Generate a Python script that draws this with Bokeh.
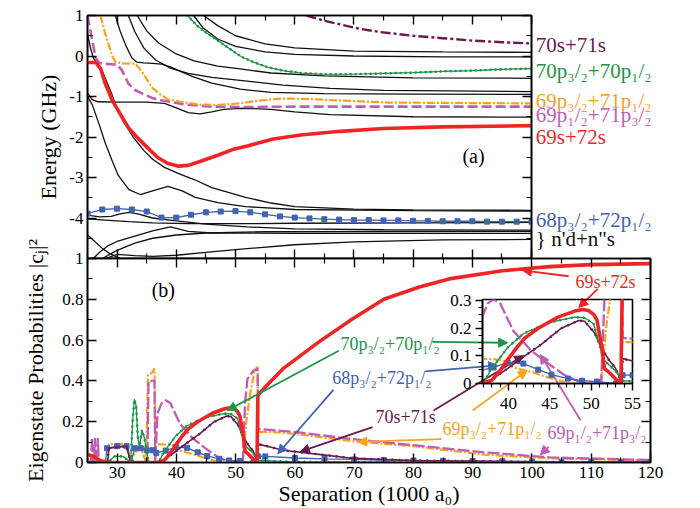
from bokeh.plotting import figure
from bokeh.layouts import column
from bokeh.models import Range1d, LinearAxis, FixedTicker, Label, Arrow, NormalHead
from bokeh.embed import file_html
from bokeh.resources import INLINE

FONT = "Liberation Serif"
W, H = 700, 508

RED = "#ee2524"; GREEN = "#1d9447"; ORANGE = "#f8a21c"; PINK = "#c25bb3"
PURPLE = "#6b1a4f"; BLUE = "#4262b3"; BLACK = "#111111"

# ---------------- ticks ----------------
energy_ticks = [-4, -3, -2, -1, 0, 1]
energy_labels = ["-4", "-3", "-2", "-1", "0", "1"]
energy_minor = [-4.5, -3.5, -2.5, -1.5, -0.5, 0.5]
sep_ticks = [30, 40, 50, 60, 70, 80, 90, 100, 110, 120]
sep_labels = ["30", "40", "50", "60", "70", "80", "90", "100", "110", "120"]
sep_minor = [25, 35, 45, 55, 65, 75, 85, 95, 105, 115]
prob_ticks = [0, 0.2, 0.4, 0.6, 0.8, 1]
prob_labels = ["0", "0.2", "0.4", "0.6", "0.8", "1"]
prob_minor = [0.1, 0.3, 0.5, 0.7, 0.9]
inset_x_ticks = [40, 45, 50, 55]
inset_x_labels = ["40", "45", "50", "55"]
inset_x_minor = [37, 38, 39, 41, 42, 43, 44, 46, 47, 48, 49, 51, 52, 53, 54]
inset_y_ticks = [0, 0.1, 0.2, 0.3]
inset_y_labels = ["0", "0.1", "0.2", "0.3"]
inset_y_minor = [0.025, 0.05, 0.075, 0.125, 0.15, 0.175, 0.225, 0.25, 0.275]

# ---------------- panel (a): energies ----------------
t_red_x = [25, 26.4, 27.2, 28, 29.2, 30.2, 31.9, 33.6, 35.6, 37, 38.5, 40.4, 42, 44.1, 47, 49.7, 52, 56.4, 61, 67.7, 75, 85, 100]
t_red_e = [-0.16, -0.16, -0.31, -0.68, -1.1, -1.35, -1.77, -2.04, -2.33, -2.52, -2.65, -2.72, -2.7, -2.6, -2.45, -2.3, -2.22, -2.05, -1.95, -1.86, -1.79, -1.75, -1.72]
t_purple_x = [62, 65, 68, 71, 74.5, 80, 85, 90, 95, 100]
t_purple_e = [1.0, 0.87, 0.77, 0.67, 0.59, 0.5, 0.44, 0.38, 0.34, 0.31]
t_green_x = [41.9, 43.5, 45, 47, 49, 51, 53, 55.5, 58, 61, 65, 70, 75, 80, 85, 90, 95, 100]
t_green_e = [1.0, 0.75, 0.58, 0.38, 0.18, -0.02, -0.15, -0.28, -0.36, -0.42, -0.45, -0.45, -0.43, -0.41, -0.38, -0.36, -0.33, -0.31]
t_orange_x = [27.2, 27.9, 28.5, 29.2, 29.7, 31, 33.1, 34.3, 35.9, 37.3, 38.6, 41.5, 44, 47, 50.8, 54, 57, 59.3, 62, 67.8, 76, 88, 100]
t_orange_e = [1.0, 0.6, 0.31, 0.0, -0.15, -0.18, -0.19, -0.41, -0.78, -0.95, -1.07, -1.15, -1.2, -1.21, -1.17, -1.1, -1.06, -1.05, -1.06, -1.1, -1.15, -1.16, -1.17]
t_pink_x = [25, 25.8, 26.4, 27, 27.5, 30, 30.8, 31.9, 33, 34.3, 36, 37.7, 41.6, 46, 51.7, 60, 80, 100]
t_pink_e = [1.0, 0.38, -0.06, -0.17, -0.19, -0.21, -0.35, -0.68, -0.84, -0.93, -1.04, -1.1, -1.2, -1.25, -1.26, -1.25, -1.25, -1.25]
t_blue_x = [25, 27.5, 30, 32.5, 35, 37.5, 40, 42.5, 45, 47.5, 50, 52.5, 55, 57.5, 60, 62.5, 65, 67.5, 70, 72.5, 75, 77.5, 80, 82.5, 85, 87.5, 90, 92.5, 95, 97.5, 100]
t_blue_e = [-3.89, -3.79, -3.77, -3.79, -3.84, -3.99, -3.99, -3.92, -3.86, -3.84, -3.83, -3.86, -3.91, -3.96, -3.99, -4.01, -4.03, -4.04, -4.05, -4.05, -4.06, -4.06, -4.07, -4.07, -4.08, -4.08, -4.08, -4.09, -4.09, -4.09, -4.09]

k1_x = [42.9, 44.5, 47, 50, 55, 60, 70, 85, 100]
k1_e = [1.0, 0.7, 0.42, 0.24, 0.1, 0.04, 0.0, -0.02, -0.02]
k2_x = [44.6, 47, 50, 55, 60, 70, 85, 100]
k2_e = [1.0, 0.75, 0.5, 0.3, 0.2, 0.12, 0.1, 0.09]
k3_x = [33.4, 35, 37, 40, 43, 47, 50.8, 56, 65, 80, 100]
k3_e = [1.0, 0.62, 0.32, 0.05, -0.12, -0.25, -0.32, -0.42, -0.49, -0.54, -0.55]
k4_x = [31.9, 33, 34.5, 36.5, 39, 42, 46, 50.8, 58, 66, 75, 100]
k4_e = [1.0, 0.6, 0.2, -0.1, -0.3, -0.43, -0.53, -0.6, -0.72, -0.8, -0.85, -0.88]
k5_x = [29.7, 30.5, 31.5, 32.5, 33.3, 34.5, 36, 37.5, 39, 41, 43, 46, 50.8, 56, 65, 80, 100]
k5_e = [1.0, 0.62, 0.25, -0.05, -0.15, -0.17, -0.18, -0.2, -0.27, -0.4, -0.52, -0.67, -0.82, -0.9, -0.93, -0.94, -0.95]
k6_x = [25, 25.8, 26.8, 30, 35, 38, 40, 42, 44, 46, 48, 50, 52, 56, 60, 66, 80, 100]
k6_e = [-0.92, -1.08, -1.13, -1.14, -1.14, -1.17, -1.28, -1.4, -1.43, -1.38, -1.32, -1.3, -1.29, -1.32, -1.38, -1.45, -1.5, -1.51]
k7_x = [25, 25.5, 26, 26.6, 27.3, 28, 29, 30, 31, 32.7, 34.5, 36, 38, 40.3, 43, 46, 51.7, 56, 60, 70, 80, 100]
k7_e = [0.55, 0.2, -0.05, -0.18, -0.3, -0.55, -0.9, -1.3, -1.6, -2.0, -2.33, -2.55, -2.75, -2.9, -3.05, -3.25, -3.49, -3.63, -3.72, -3.78, -3.8, -3.81]
k8_x = [25, 25.8, 27, 28, 29.2, 30.2, 32, 33.9, 36, 38.6, 41, 43.2, 47, 51.7, 60, 80, 100]
k8_e = [-1.0, -1.2, -1.7, -2.15, -2.6, -2.95, -3.3, -3.42, -3.33, -3.22, -3.33, -3.49, -3.62, -3.72, -3.79, -3.82, -3.83]
l1_x = [25, 27, 29, 30.5, 32, 33.5, 36, 40, 45, 52, 60, 75, 100]
l1_e = [-3.93, -3.97, -3.96, -3.9, -3.86, -3.9, -4.0, -4.07, -4.15, -4.22, -4.27, -4.29, -4.3]
l2_x = [25, 28, 32, 36, 42, 50, 60, 80, 100]
l2_e = [-4.02, -4.05, -4.09, -4.12, -4.14, -4.14, -4.13, -4.12, -4.11]
l3_x = [26, 27, 28.5, 30, 33, 36, 39, 42, 46, 60, 100]
l3_e = [-5.0, -4.85, -4.68, -4.58, -4.45, -4.32, -4.22, -4.33, -4.37, -4.38, -4.38]
l4_x = [25, 26, 27.5, 29, 30.5]
l4_e = [-4.42, -4.55, -4.75, -4.9, -5.0]
l5_x = [28, 30, 33, 36, 40, 45, 50, 60, 70, 85, 100]
l5_e = [-5.0, -4.9, -4.93, -4.95, -4.92, -4.85, -4.78, -4.66, -4.59, -4.54, -4.53]
l6_x = [27.5, 30, 33, 36, 40, 45, 55, 100]
l6_e = [-5.0, -4.8, -4.62, -4.5, -4.42, -4.37, -4.34, -4.33]

# ---------------- panel (b): probabilities ----------------
red_x = [25, 26, 27, 28, 36.8, 38, 39, 40, 41, 42, 43.6, 46, 48, 49, 49.7, 50.3, 50.7, 51.3, 51.6, 52, 52.9, 53.6, 53.75, 55, 58, 64, 69.5, 75, 81, 86, 95, 103, 110, 120]
red_p = [0.04, 0.03, 0.012, 0.0, 0.0, 0.012, 0.047, 0.09, 0.13, 0.165, 0.2, 0.24, 0.262, 0.268, 0.264, 0.25, 0.23, 0.13, 0.054, 0.045, 0.018, 0.0, 0.33, 0.37, 0.46, 0.59, 0.7, 0.8, 0.86, 0.9, 0.94, 0.96, 0.97, 0.975]
green_x = [25, 28.5, 29.5, 31, 32.3, 32.6, 32.9, 33.2, 33.5, 33.8, 34.2, 34.6, 35.3, 37.0, 37.8, 39.9, 41.8, 44.8, 48, 49.2, 50.3, 51.3, 51.6, 52.9, 53.8, 60, 120]
green_p = [0.0, 0.0, 0.03, 0.03, 0.0, 0.2, 0.31, 0.28, 0.12, 0.08, 0.16, 0.12, 0.0, 0.0, 0.047, 0.13, 0.18, 0.22, 0.24, 0.238, 0.216, 0.108, 0.083, 0.047, 0.01, 0.003, 0.0]
orange_x = [25, 28.3, 28.6, 31.6, 32.3, 33.0, 34.0, 34.9, 35.2, 35.9, 36.3, 36.45, 36.8, 39.3, 40.6, 43, 44.8, 47.5, 51.2, 51.8, 52.4, 53.2, 53.7, 53.8, 56, 60, 69.5, 80, 92, 103, 120]
orange_p = [0.01, 0.01, 0.09, 0.09, 0.0, 0.05, 0.07, 0.0, 0.43, 0.44, 0.46, 0.1, 0.09, 0.085, 0.058, 0.04, 0.022, 0.0, 0.0, 0.2, 0.33, 0.45, 0.47, 0.15, 0.15, 0.14, 0.105, 0.08, 0.038, 0.02, 0.01]
pink_x = [25, 25.6, 25.75, 25.9, 26.1, 26.25, 26.4, 26.6, 26.75, 26.9, 35.1, 35.3, 36.3, 36.45, 36.8, 37.5, 38.2, 39, 40.6, 42.7, 44.8, 46.8, 49, 51.2, 51.6, 52, 53, 53.7, 53.8, 60, 69.5, 80, 92, 103, 120]
pink_p = [0.0, 0.0, 0.12, 0.0, 0.0, 0.12, 0.0, 0.0, 0.12, 0.0, 0.0, 0.4, 0.4, 0.0, 0.24, 0.29, 0.305, 0.29, 0.19, 0.12, 0.072, 0.03, 0.0, 0.0, 0.3, 0.41, 0.45, 0.46, 0.165, 0.15, 0.115, 0.085, 0.05, 0.025, 0.012]
purple_x = [25, 28.4, 28.6, 31.6, 32.3, 37.5, 38.7, 39.9, 41.5, 43.9, 46.4, 48.5, 49.2, 50.4, 51.3, 52.2, 52.9, 53.5, 53.7, 53.8, 56, 58, 64, 70, 80, 100, 120]
purple_p = [0.0, 0.0, 0.07, 0.08, 0.0, 0.0, 0.03, 0.054, 0.09, 0.14, 0.2, 0.228, 0.225, 0.184, 0.126, 0.083, 0.058, 0.018, 0.0, 0.09, 0.075, 0.06, 0.04, 0.02, 0.01, 0.003, 0.0]
blue_x = [25, 28.0, 28.3, 30, 31.6, 32.3, 33, 34, 35, 36, 36.6, 38.2, 39.9, 41.8, 43.6, 45.2, 47.2, 48.9, 50.7, 53, 53.8, 55, 60, 65, 70, 75, 80, 85, 90, 95, 100, 105, 110, 115, 120]
blue_p = [0.0, 0.0, 0.07, 0.08, 0.08, 0.0, 0.07, 0.07, 0.06, 0.06, 0.047, 0.058, 0.076, 0.072, 0.05, 0.032, 0.018, 0.01, 0.007, 0.0, 0.03, 0.03, 0.022, 0.018, 0.015, 0.012, 0.01, 0.008, 0.007, 0.006, 0.005, 0.004, 0.004, 0.003, 0.003]


def base(xr, yr, left, right, top, bottom):
    p = figure(width=W, height=H, x_range=Range1d(*xr), y_range=Range1d(*yr),
               output_backend="svg", toolbar_location=None,
               x_axis_location=None, y_axis_location=None,
               min_border_left=left, min_border_right=right,
               min_border_top=top, min_border_bottom=bottom)
    if "frame_align" in p.properties():
        p.frame_align = False
    p.grid.visible = False
    p.outline_line_color = "black"
    p.outline_line_width = 1.6
    p.outline_line_alpha = 1.0
    p.border_fill_alpha = 0
    return p


def add_axis(p, side, ticks, minor, labels=None, inward=True, title=None, title_standoff=5, standoff=4):
    ax = LinearAxis(ticker=FixedTicker(ticks=ticks, minor_ticks=minor))
    ax.axis_line_width = 1.6
    ax.axis_line_color = "black"
    ax.major_tick_line_width = 1.4
    ax.minor_tick_line_width = 1.2
    ax.major_tick_line_color = "black"
    ax.minor_tick_line_color = "black"
    if inward:
        ax.major_tick_in, ax.major_tick_out, ax.minor_tick_in, ax.minor_tick_out = 9, 0, 5, 0
    else:
        ax.major_tick_in, ax.major_tick_out, ax.minor_tick_in, ax.minor_tick_out = 0, 7, 0, 4
    ax.major_label_text_font = FONT
    ax.major_label_text_font_size = "17px"
    ax.major_label_text_color = "black"
    ax.major_label_standoff = standoff
    if labels is None:
        ax.major_label_overrides = {t: "" for t in ticks}
    else:
        ax.major_label_overrides = {t: s for t, s in zip(ticks, labels)}
    if title:
        ax.axis_label = title
        ax.axis_label_text_font = FONT
        ax.axis_label_text_font_size = "22px"
        ax.axis_label_text_font_style = "normal"
        ax.axis_label_text_color = "black"
        ax.axis_label_standoff = title_standoff
    p.add_layout(ax, side)
    return ax


def dots(p, x, y, color, width=2.8, gap=5):
    p.line(x, y, line_color=color, line_width=width, line_dash="0 %d" % gap, line_cap="round")


# ================= top panel (a) =================
T = base((25, 100), (-5, 1), 87, 169, 15, 250)
T.border_fill_color = "white"
T.border_fill_alpha = 1
add_axis(T, "left", energy_ticks, energy_minor, energy_labels, title="Energy (GHz)", title_standoff=5)
add_axis(T, "right", energy_ticks, energy_minor)
add_axis(T, "above", sep_ticks, sep_minor)
add_axis(T, "below", sep_ticks, sep_minor)

for bx, be in [(k1_x, k1_e), (k2_x, k2_e), (k3_x, k3_e), (k4_x, k4_e), (k5_x, k5_e), (k6_x, k6_e),
               (k7_x, k7_e), (k8_x, k8_e), (l1_x, l1_e), (l2_x, l2_e), (l3_x, l3_e), (l4_x, l4_e),
               (l5_x, l5_e), (l6_x, l6_e)]:
    T.line(bx, be, line_color=BLACK, line_width=1.3)

T.line(t_purple_x, t_purple_e, line_color=PURPLE, line_width=2.4, line_dash="10 3 3 3")
T.line(t_green_x, t_green_e, line_color=GREEN, line_width=1.2)
dots(T, t_green_x, t_green_e, GREEN, 2.6, 5)
T.line(t_pink_x, t_pink_e, line_color=PINK, line_width=2.6, line_dash="10 4")
T.line(t_orange_x, t_orange_e, line_color=ORANGE, line_width=2.2, line_dash="8 2 2 2")
T.line(t_blue_x, t_blue_e, line_color=BLUE, line_width=1.3)
T.scatter(t_blue_x, t_blue_e, marker="square", size=5, fill_color=BLUE, line_color=BLUE)
T.line(t_red_x, t_red_e, line_color=RED, line_width=3.6)

T.add_layout(Label(x=90.2, y=-2.46, text="(a)", text_font=FONT, text_font_size="20px",
                   text_color="black", text_baseline="middle", text_align="center"))

# ---- state labels to the right of panel (a): own transparent canvas on the energy scale ----
Lf = base((0, 1), (-5, 1), 532, 2, 15, 250)
Lf.outline_line_color = None
Lf.background_fill_alpha = 0
top_labels = [
    ("70s+71s", 0.26, PURPLE),
    ("70p\u2083/\u2082+70p\u2081/\u2082", -0.36, GREEN),
    ("69p\u2083/\u2082+71p\u2081/\u2082", -1.1, ORANGE),
    ("69p\u2081/\u2082+71p\u2083/\u2082", -1.45, PINK),
    ("69s+72s", -1.99, RED),
    ("68p\u2083/\u2082+72p\u2081/\u2082", -4.06, BLUE),
    ("} n'd+n\"s", -4.53, BLACK),
]
for txt, ey, col in top_labels:
    Lf.add_layout(Label(x=0.02, y=ey, text=txt, text_font=FONT, text_font_size="21px",
                        text_color=col, text_baseline="middle", text_align="left"))

# ================= bottom panel (b) =================
B = base((25, 120), (0, 1), 87, 50, 258, 42)
add_axis(B, "left", prob_ticks, prob_minor, prob_labels,
         title="Eigenstate Probabilities |c\u2c7c|\u00b2", title_standoff=11)
add_axis(B, "right", prob_ticks, prob_minor)
add_axis(B, "above", sep_ticks, sep_minor)
add_axis(B, "below", sep_ticks, sep_minor, sep_labels, title="Separation (1000 a\u2080)", title_standoff=0)


def draw_probs(p, msize):
    p.line(orange_x, orange_p, line_color=ORANGE, line_width=2.2, line_dash="8 2 2 2")
    p.line(pink_x, pink_p, line_color=PINK, line_width=2.3, line_dash="12 3")
    p.line(blue_x, blue_p, line_color=BLUE, line_width=1.3)
    p.scatter(blue_x[2:], blue_p[2:], marker="square", size=msize, fill_color=BLUE, line_color=BLUE)
    p.line(purple_x, purple_p, line_color=PURPLE, line_width=1.6)
    dots(p, purple_x, purple_p, PURPLE, 2.6, 7)
    p.line(green_x, green_p, line_color=GREEN, line_width=1.3)
    dots(p, green_x, green_p, GREEN, 2.6, 6)
    p.line(red_x, red_p, line_color=RED, line_width=3.6)


draw_probs(B, 5)

b_labels = [
    ("69s+72s", 112.4, 0.885, RED, "center"),
    ("70p\u2083/\u2082+70p\u2081/\u2082", 67.7, 0.582, GREEN, "left"),
    ("68p\u2083/\u2082+72p\u2081/\u2082", 66.3, 0.413, BLUE, "left"),
    ("70s+71s", 73.6, 0.221, PURPLE, "left"),
    ("69p\u2083/\u2082+71p\u2081/\u2082", 84.9, 0.163, ORANGE, "left"),
    ("69p\u2081/\u2082+71p\u2083/\u2082", 102.6, 0.144, PINK, "left"),
]
for txt, lx, ly, col, al in b_labels:
    B.add_layout(Label(x=lx, y=ly, text=txt, text_font=FONT, text_font_size="18px",
                       text_color=col, text_baseline="middle", text_align=al))
B.add_layout(Label(x=37.8, y=0.846, text="(b)", text_font=FONT, text_font_size="20px",
                   text_color="black", text_baseline="middle", text_align="center"))

arrows = [
    (106.2, 0.913, 98.4, 0.942, RED),
    (111.1, 0.851, 107.9, 0.760, RED),
    (67.4, 0.548, 48.6, 0.255, GREEN),
    (83.2, 0.591, 95.9, 0.587, GREEN),
    (66.5, 0.356, 57.1, 0.043, BLUE),
    (82.0, 0.447, 94.2, 0.476, BLUE),
    (73.1, 0.173, 60.9, 0.053, PURPLE),
    (83.4, 0.255, 98.6, 0.524, PURPLE),
    (84.7, 0.115, 70.6, 0.101, ORANGE),
    (90.0, 0.255, 99.2, 0.452, ORANGE),
    (102.8, 0.077, 101.4, 0.038, PINK),
    (108.2, 0.207, 101.4, 0.529, PINK),
]
for xs, ys, xe, ye, col in arrows:
    B.add_layout(Arrow(end=NormalHead(size=9, fill_color=col, line_color=col),
                       x_start=xs, y_start=ys, x_end=xe, y_end=ye,
                       line_color=col, line_width=1.8))

# ================= inset =================
I = base((36.86, 55), (0, 0.304), 482, 68, 299, 125)
I.background_fill_alpha = 0
add_axis(I, "left", inset_y_ticks, inset_y_minor, inset_y_labels, inward=False)
add_axis(I, "below", inset_x_ticks, inset_x_minor, inset_x_labels, inward=False, standoff=7)
draw_probs(I, 5)

# stack the canvases on top of each other
for fig in (Lf, B, I):
    fig.margin = (-H, 0, 0, 0)
layout = column(T, Lf, B, I, spacing=0)
open("out.html", "w").write(file_html(layout, INLINE))
